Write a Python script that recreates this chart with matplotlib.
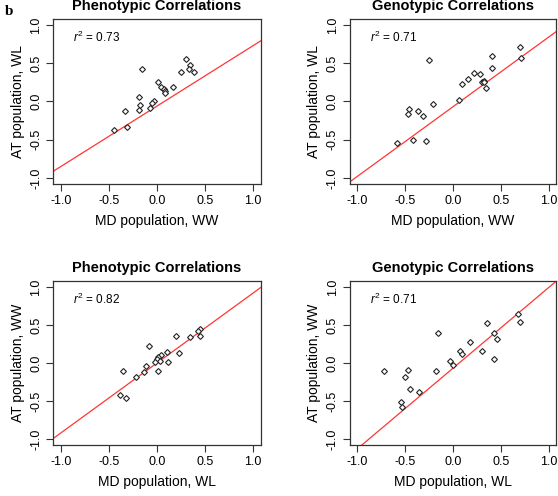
import matplotlib

matplotlib.use("Agg")
import matplotlib.pyplot as plt

plt.rcParams["font.family"] = ["Liberation Sans", "DejaVu Sans"]
plt.rcParams["axes.unicode_minus"] = False
plt.rcParams["mathtext.fontset"] = "custom"
plt.rcParams["mathtext.rm"] = "Liberation Sans"
plt.rcParams["mathtext.it"] = "Liberation Sans:italic"

# phenotypic, MD WW vs AT WL
md_ww_pheno = [0.30, 0.34, 0.25, 0.33, 0.38, -0.16, 0.01, 0.04, 0.07, 0.08, 0.08, 0.17,
               -0.19, -0.18, -0.19, -0.03, -0.05, -0.07, -0.33, -0.31, -0.45]
at_wl_pheno = [0.56, 0.48, 0.38, 0.42, 0.38, 0.42, 0.26, 0.19, 0.16, 0.14, 0.11, 0.19,
               0.06, -0.05, -0.11, 0.01, -0.02, -0.08, -0.13, -0.33, -0.37]

# genotypic, MD WW vs AT WL
md_ww_geno = [0.70, 0.71, 0.41, 0.41, -0.25, 0.22, 0.28, 0.16, 0.10, 0.30, 0.32, 0.33,
              0.35, 0.06, -0.21, -0.46, -0.47, -0.37, -0.31, -0.59, -0.42, -0.28]
at_wl_geno = [0.71, 0.57, 0.60, 0.44, 0.54, 0.37, 0.36, 0.29, 0.23, 0.26, 0.27, 0.25,
              0.18, 0.02, -0.04, -0.10, -0.17, -0.12, -0.19, -0.55, -0.51, -0.52]

# phenotypic, MD WL vs AT WW
md_wl_pheno = [0.45, 0.43, 0.45, 0.34, 0.20, -0.08, 0.10, 0.04, 0.01, 0.00, 0.03, -0.02,
               0.11, 0.23, -0.12, 0.01, -0.14, -0.22, -0.35, -0.39, -0.32]
at_ww_pheno = [0.45, 0.42, 0.35, 0.34, 0.35, 0.22, 0.14, 0.11, 0.08, 0.05, 0.03, 0.01,
               0.01, 0.13, -0.04, -0.10, -0.12, -0.18, -0.10, -0.42, -0.46]

# genotypic, MD WL vs AT WW
md_wl_geno = [0.68, 0.70, 0.36, 0.43, 0.46, -0.16, 0.18, 0.30, 0.07, 0.09, 0.43, -0.03,
              0.00, -0.18, -0.72, -0.47, -0.50, -0.45, -0.36, -0.54, -0.53]
at_ww_geno = [0.64, 0.54, 0.52, 0.39, 0.32, 0.39, 0.27, 0.16, 0.16, 0.12, 0.05, 0.02,
              -0.03, -0.10, -0.11, -0.09, -0.19, -0.34, -0.38, -0.51, -0.58]

fit_slopes = [0.79, 0.91, 0.92, 1.06]
fit_intercepts = [-0.06, -0.07, 0.00, -0.07]
r2_labels = ["0.73", "0.71", "0.82", "0.71"]
titles = ["Phenotypic Correlations", "Genotypic Correlations",
          "Phenotypic Correlations", "Genotypic Correlations"]
x_labels = ["MD population, WW", "MD population, WW", "MD population, WL", "MD population, WL"]
y_labels = ["AT population, WL", "AT population, WL", "AT population, WW", "AT population, WW"]
ticks = [-1.0, -0.5, 0.0, 0.5, 1.0]

panels = [
    (md_ww_pheno, at_wl_pheno),
    (md_ww_geno, at_wl_geno),
    (md_wl_pheno, at_ww_pheno),
    (md_wl_geno, at_ww_geno),
]
positions = [
    [0.0955, 0.629, 0.372, 0.333],
    [0.6267, 0.629, 0.370, 0.333],
    [0.0955, 0.1028, 0.372, 0.331],
    [0.6267, 0.1028, 0.370, 0.331],
]

fig = plt.figure(figsize=(5.58, 4.96), dpi=100, facecolor="white")

for i, ((xs, ys), pos) in enumerate(zip(panels, positions)):
    ax = fig.add_axes(pos)
    ax.set_xlim(-1.08, 1.08)
    ax.set_ylim(-1.08, 1.08)
    ax.axline((0, fit_intercepts[i]), slope=fit_slopes[i], color="#ff3535", lw=0.9, zorder=1)
    ax.plot(xs, ys, linestyle="none", marker="D", markersize=3.0,
            markerfacecolor="white", markeredgecolor="#222222", markeredgewidth=0.8, zorder=2)
    ax.set_xticks(ticks)
    ax.set_yticks(ticks)
    ax.set_xticklabels([f"{t:.1f}" for t in ticks])
    ax.set_yticklabels([f"{t:.1f}" for t in ticks], rotation=90, va="center")
    ax.tick_params(direction="out", length=5, width=0.8, pad=3, labelsize=9,
                   color="#333333", labelcolor="black")
    for spine in ax.spines.values():
        spine.set_linewidth(0.9)
        spine.set_color("#333333")
    ax.set_title(titles[i], fontsize=10.5, fontweight="bold", pad=6.5)
    ax.set_xlabel(x_labels[i], fontsize=10, labelpad=5)
    ax.set_ylabel(y_labels[i], fontsize=10, labelpad=4)
    ax.text(-0.87, 0.84, r"$r^2$ = " + r2_labels[i], fontsize=8.5, ha="left", va="center")

fig.text(5 / 558, 1 - 15 / 496, "b", fontsize=11, fontweight="bold",
         family=["Liberation Serif", "DejaVu Serif"], ha="left", va="baseline")

fig.savefig("out.png", dpi=100, facecolor="white")
plt.close(fig)
